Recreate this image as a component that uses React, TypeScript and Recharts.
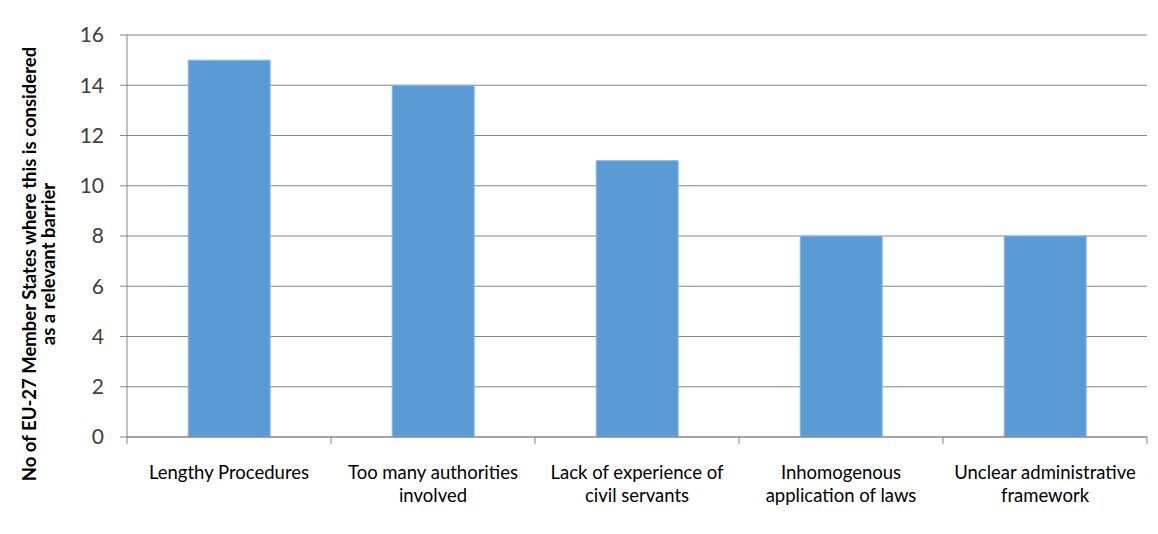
import { Bar, BarChart, CartesianGrid, XAxis, YAxis, Label } from "recharts"

const categories = [
  "Lengthy Procedures",
  "Too many authorities involved",
  "Lack of experience of civil servants",
  "Inhomogenous application of laws",
  "Unclear administrative framework",
]
const labelLines = [
  ["Lengthy Procedures"],
  ["Too many authorities", "involved"],
  ["Lack of experience of", "civil servants"],
  ["Inhomogenous", "application of laws"],
  ["Unclear administrative", "framework"],
]
const counts = [15, 14, 11, 8, 8]
const yTicks = [0, 2, 4, 6, 8, 10, 12, 14, 16]

const data = categories.map((name, i) => ({ name, value: counts[i] }))

const WIDTH = 1158
const HEIGHT = 534
const LEFT = 127
const RIGHT = 11
const BAND = (WIDTH - LEFT - RIGHT) / categories.length
const FONT = "Lato, 'Open Sans', sans-serif"

function CategoryTick(props: any) {
  const { x, y, index } = props
  const lines = labelLines[index] || []
  const left = x - BAND / 2
  return (
    <g>
      <line x1={left} x2={left} y1={y - 8} y2={y - 1} stroke="#868686" />
      {index === categories.length - 1 && (
        <line x1={left + BAND} x2={left + BAND} y1={y - 8} y2={y - 1} stroke="#868686" />
      )}
      <text x={x} y={y + 34} textAnchor="middle" fontSize={18.5} fill="#000" fontFamily={FONT}>
        {lines.map((l: string, i: number) => (
          <tspan key={i} x={x} dy={i === 0 ? 0 : 23}>
            {l}
          </tspan>
        ))}
      </text>
    </g>
  )
}

function YTitle(props: any) {
  const { viewBox } = props
  const cy = viewBox.y + viewBox.height / 2
  return (
    <text transform={`rotate(-90, 0, ${cy})`} fontSize={18.5} fontWeight="bold" fill="#000" fontFamily={FONT} textAnchor="middle">
      <tspan x={-28} y={cy + 36}>No of EU-27 Member States where this is considered</tspan>
      <tspan x={-28} y={cy + 55}>as a relevant barrier</tspan>
    </text>
  )
}

export default function App() {
  return (
    <div style={{ position: "absolute", left: 0, top: 0, background: "#fff" }}>
      <BarChart
        width={WIDTH}
        height={HEIGHT}
        data={data}
        margin={{ top: 35, right: RIGHT, bottom: 0, left: 0 }}
        barCategoryGap="30%"
      >
        <CartesianGrid vertical={false} stroke="#868686" />
        <XAxis
          dataKey="name"
          height={97}
          interval={0}
          stroke="#868686"
          tickLine={false}
          tick={<CategoryTick />}
        />
        <YAxis
          width={LEFT}
          domain={[0, 16]}
          ticks={yTicks}
          interval={0}
          stroke="#868686"
          tickSize={7}
          tickMargin={16}
          tick={{ fontSize: 21, fill: "#404040", fontFamily: FONT }}
        >
          <Label content={<YTitle />} />
        </YAxis>
        <Bar dataKey="value" fill="#5b9bd5" stroke="#8dbbe6" strokeWidth={1} isAnimationActive={false} />
      </BarChart>
    </div>
  )
}
